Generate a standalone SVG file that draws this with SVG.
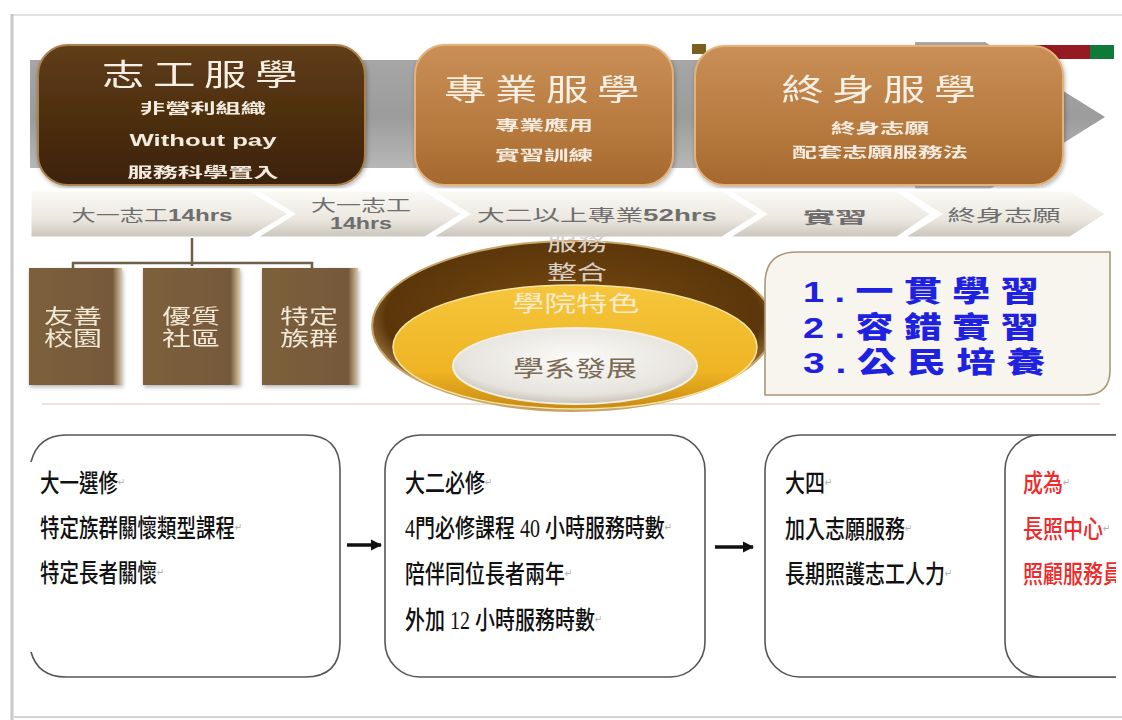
<svg xmlns="http://www.w3.org/2000/svg" width="1122" height="720" viewBox="0 0 1122 720">
<defs>
  <linearGradient id="gBand" x1="0" y1="0" x2="0" y2="1">
    <stop offset="0" stop-color="#a9a9a9"/><stop offset="0.5" stop-color="#9c9c9c"/><stop offset="1" stop-color="#c4c4c4"/>
  </linearGradient>
  <linearGradient id="gDark" x1="0" y1="0" x2="0" y2="1">
    <stop offset="0" stop-color="#5f3d17"/><stop offset="1" stop-color="#3c2208"/>
  </linearGradient>
  <linearGradient id="gOrange" x1="0" y1="0" x2="0" y2="1">
    <stop offset="0" stop-color="#c98f57"/><stop offset="0.6" stop-color="#b77a3e"/><stop offset="1" stop-color="#a4682e"/>
  </linearGradient>
  <linearGradient id="gChev" x1="0" y1="0" x2="0" y2="1">
    <stop offset="0" stop-color="#fbfaf6"/><stop offset="0.6" stop-color="#ece8e0"/><stop offset="1" stop-color="#c9c4ba"/>
  </linearGradient>
  <linearGradient id="gSmall" x1="0" y1="0" x2="1" y2="0">
    <stop offset="0" stop-color="#7c5f3b"/><stop offset="0.9" stop-color="#76593a"/><stop offset="1" stop-color="#d8c8a8"/>
  </linearGradient>
  <radialGradient id="gOuter" cx="0.5" cy="0.45" r="0.55">
    <stop offset="0" stop-color="#7a4a12"/><stop offset="0.85" stop-color="#5a360a"/><stop offset="1" stop-color="#b08850"/>
  </radialGradient>
  <linearGradient id="gGold" x1="0" y1="0" x2="0" y2="1">
    <stop offset="0" stop-color="#f6c63c"/><stop offset="0.7" stop-color="#eeb424"/><stop offset="1" stop-color="#c88a10"/>
  </linearGradient>
  <radialGradient id="gInner" cx="0.5" cy="0.4" r="0.6">
    <stop offset="0" stop-color="#fcfbf9"/><stop offset="0.8" stop-color="#e6e3dd"/><stop offset="1" stop-color="#c8c2b8"/>
  </radialGradient>
  <filter id="sh" x="-10%" y="-10%" width="120%" height="130%">
    <feDropShadow dx="1" dy="2" stdDeviation="2" flood-color="#000" flood-opacity="0.3"/>
  </filter>
  <marker id="arr" viewBox="0 0 10 10" refX="9" refY="5" markerWidth="3.2" markerHeight="3.2" orient="auto">
    <path d="M0,0 L10,5 L0,10 Z" fill="#111"/>
  </marker>
  <clipPath id="clipR"><rect x="0" y="0" width="1116" height="720"/></clipPath>
  <style>
    .ttl{font-family:"Noto Sans CJK TC","Noto Sans",sans-serif;fill:#f6efe4;text-anchor:middle;font-size:30px;letter-spacing:6px}
    .sub{font-family:"Noto Sans CJK TC","Noto Sans",sans-serif;fill:#f3ebdf;text-anchor:middle;font-size:14px;font-weight:bold}
    .chev{font-family:"Liberation Sans","Noto Sans CJK TC",sans-serif;fill:#6e6e6e;font-size:16px;text-anchor:middle}
    .small{font-family:"Liberation Serif","Noto Sans CJK TC",serif;fill:#f2ead8;font-size:20px;text-anchor:middle}
    .blue{font-family:"Liberation Sans","Noto Sans CJK TC",sans-serif;fill:#1e22e0;font-size:29px;font-weight:900;letter-spacing:8px}
    .body{font-family:"Liberation Serif","Noto Sans CJK TC",serif;fill:#111;font-size:25px;font-weight:500}
    .red{fill:#ee2a2a}
    .pm{font-family:"DejaVu Sans",sans-serif;fill:#b0b0b0;font-size:11px;font-weight:normal}
    .box{fill:#fff;stroke:#555;stroke-width:1.6}
    .conn{stroke:#111;stroke-width:3.5;fill:none}
  </style>
</defs>

<rect width="1122" height="720" fill="#fff"/>

<!-- page frame -->
<g id="frame" fill="none">
  <line x1="12" y1="15" x2="1122" y2="15" stroke="#e2e2e2" stroke-width="2"/>
  <line x1="12" y1="14" x2="12" y2="720" stroke="#c8c8c8" stroke-width="3"/>
  <line x1="12" y1="717" x2="1122" y2="717" stroke="#d4d4d4" stroke-width="2"/>
</g>

<!-- background arrow band -->
<g id="band">
  <polygon points="30,60 915,60 915,42 985,42 1105,117 985,192 915,192 915,168 30,168" fill="url(#gBand)"/>
  <rect x="1033" y="45" width="57" height="14" fill="#951a22"/>
  <rect x="1090" y="45" width="24" height="14" fill="#0f7a3a"/>
  <rect x="692" y="44" width="14" height="10" fill="#7a6020"/>
</g>

<!-- stage boxes -->
<g id="stage1" filter="url(#sh)">
  <rect x="38" y="45" width="327" height="140" rx="30" fill="url(#gDark)" stroke="#a9824f" stroke-width="2"/>
  <text class="ttl" x="204" y="85" textLength="204" lengthAdjust="spacingAndGlyphs">志工服學</text>
  <text class="sub" x="203" y="113" textLength="126" lengthAdjust="spacingAndGlyphs">非營利組織</text>
  <text x="203" y="146" font-family="Liberation Sans,Arial,sans-serif" font-weight="bold" font-size="17" fill="#f3ebdf" text-anchor="middle" textLength="147" lengthAdjust="spacingAndGlyphs">Without pay</text>
  <text class="sub" x="203" y="177" textLength="151" lengthAdjust="spacingAndGlyphs">服務科學置入</text>
</g>
<g id="stage2" filter="url(#sh)">
  <rect x="415" y="45" width="258" height="140" rx="30" fill="url(#gOrange)" stroke="#e2b27a" stroke-width="2"/>
  <text class="ttl" x="546" y="100" textLength="204" lengthAdjust="spacingAndGlyphs">專業服學</text>
  <text class="sub" x="544" y="130" textLength="98" lengthAdjust="spacingAndGlyphs">專業應用</text>
  <text class="sub" x="544" y="160" textLength="98" lengthAdjust="spacingAndGlyphs">實習訓練</text>
</g>
<g id="stage3" filter="url(#sh)">
  <rect x="695" y="46" width="368" height="139" rx="30" fill="url(#gOrange)" stroke="#e2b27a" stroke-width="2"/>
  <text class="ttl" x="883" y="100" textLength="203" lengthAdjust="spacingAndGlyphs">終身服學</text>
  <text class="sub" x="880" y="133" textLength="98" lengthAdjust="spacingAndGlyphs">終身志願</text>
  <text class="sub" x="880" y="157" textLength="176" lengthAdjust="spacingAndGlyphs">配套志願服務法</text>
</g>

<!-- chevron row -->
<g id="chevrons" stroke="#ffffff" stroke-width="3" stroke-linejoin="miter">
  <g id="chev1"><polygon points="30,190 250,190 290,214 250,238 30,238" fill="url(#gChev)"/>
    <text class="chev" stroke="none" x="152" y="221" textLength="161" lengthAdjust="spacingAndGlyphs">大一志工<tspan font-weight="bold">14hrs</tspan></text></g>
  <g id="chev2"><polygon points="255,190 425,190 463,214 425,238 255,238 293,214" fill="url(#gChev)"/>
    <text class="chev" stroke="none" x="361" y="211" textLength="100" lengthAdjust="spacingAndGlyphs">大一志工</text>
    <text class="chev" stroke="none" x="361" y="229" font-weight="bold" fill="#5a5a5a" textLength="62" lengthAdjust="spacingAndGlyphs">14hrs</text></g>
  <g id="chev3"><polygon points="430,190 722,190 760,214 722,238 430,238 468,214" fill="url(#gChev)"/>
    <text class="chev" stroke="none" x="597" y="221" textLength="240" lengthAdjust="spacingAndGlyphs">大二以上專業<tspan font-weight="bold">52hrs</tspan></text></g>
  <g id="chev4"><polygon points="727,190 897,190 932,214 897,238 727,238 765,214" fill="url(#gChev)"/>
    <text class="chev" stroke="none" x="835" y="223" font-size="22" font-weight="bold" textLength="64" lengthAdjust="spacingAndGlyphs">實習</text></g>
  <g id="chev5"><polygon points="902,190 1070,190 1107,214 1070,238 902,238 940,214" fill="url(#gChev)"/>
    <text class="chev" stroke="none" x="1004" y="221" textLength="113" lengthAdjust="spacingAndGlyphs">終身志願</text></g>
</g>

<!-- connectors -->
<g id="connectors">
  <g id="tree" stroke="#6f5e48" stroke-width="2.5" fill="none">
    <line x1="192" y1="238" x2="192" y2="266"/>
    <polyline points="73,268 73,263 312,263 312,268"/>
  </g>
  <line class="conn" x1="347" y1="545" x2="381" y2="545" marker-end="url(#arr)"/>
  <line class="conn" x1="715" y1="547" x2="753" y2="547" marker-end="url(#arr)"/>
  <line class="conn" x1="968" y1="548" x2="1004" y2="548" marker-end="url(#arr)"/>
</g>

<!-- small brown boxes -->
<g id="box-youshan" filter="url(#sh)">
  <rect x="29" y="268" width="93" height="117" fill="url(#gSmall)"/>
  <text class="small" x="73" y="324" textLength="58" lengthAdjust="spacingAndGlyphs">友善</text><text class="small" x="73" y="346" textLength="58" lengthAdjust="spacingAndGlyphs">校園</text>
</g>
<g id="box-youzhi" filter="url(#sh)">
  <rect x="143" y="268" width="97" height="117" fill="url(#gSmall)"/>
  <text class="small" x="191" y="324" textLength="58" lengthAdjust="spacingAndGlyphs">優質</text><text class="small" x="191" y="346" textLength="58" lengthAdjust="spacingAndGlyphs">社區</text>
</g>
<g id="box-teding" filter="url(#sh)">
  <rect x="262" y="268" width="96" height="117" fill="url(#gSmall)"/>
  <text class="small" x="309" y="324" textLength="58" lengthAdjust="spacingAndGlyphs">特定</text><text class="small" x="309" y="346" textLength="58" lengthAdjust="spacingAndGlyphs">族群</text>
</g>

<line x1="42" y1="404" x2="1100" y2="404" stroke="#ece4d8" stroke-width="2"/>

<!-- nested ellipses -->
<g id="ellipses">
  <ellipse cx="573" cy="326" rx="201" ry="85" fill="url(#gOuter)" stroke="#c9a46a" stroke-width="2"/>
  <ellipse cx="575" cy="347" rx="182" ry="62" fill="url(#gGold)" stroke="#f8e6a0" stroke-width="1.5"/>
  <ellipse cx="575" cy="366" rx="122" ry="38" fill="url(#gInner)" stroke="#f4efe4" stroke-width="2"/>
  <text x="577" y="251" font-family="Liberation Serif,Noto Sans CJK TC,serif" font-size="20" fill="#d8d0c6" text-anchor="middle" textLength="60" lengthAdjust="spacingAndGlyphs">服務</text>
  <text x="577" y="280" font-family="Liberation Serif,Noto Sans CJK TC,serif" font-size="20" fill="#d8d0c6" text-anchor="middle" textLength="60" lengthAdjust="spacingAndGlyphs">整合</text>
  <text x="576" y="311" font-family="Liberation Serif,Noto Sans CJK TC,serif" font-size="22" fill="#f6ebcf" text-anchor="middle" textLength="127" lengthAdjust="spacingAndGlyphs">學院特色</text>
  <text x="575" y="376" font-family="Liberation Serif,Noto Sans CJK TC,serif" font-size="22" fill="#7a6a55" text-anchor="middle" textLength="124" lengthAdjust="spacingAndGlyphs">學系發展</text>
</g>

<!-- principles panel -->
<g id="principles">
  <path d="M797,252 L1110,252 L1110,370 Q1110,395 1085,395 L765,395 L765,284 Q765,252 797,252 Z" fill="#f8f5ef" stroke="#a8987a" stroke-width="1.6"/>
  <text class="blue" x="803" y="302" textLength="246" lengthAdjust="spacingAndGlyphs">1.一貫學習</text>
  <text class="blue" x="803" y="338" textLength="246" lengthAdjust="spacingAndGlyphs">2.容錯實習</text>
  <text class="blue" x="803" y="373" textLength="253" lengthAdjust="spacingAndGlyphs">3.公民培養</text>
</g>

<!-- bottom flow boxes -->
<g id="box-year1">
  <path class="box" d="M31,462 Q38,435 66,435 L305,435 Q340,435 340,470 L340,642 Q340,677 305,677 L66,677 Q38,677 31,652" fill="#fff"/>
  <g transform="translate(40,0) scale(0.78,1)">
    <text class="body" x="0" y="492">大一選修<tspan class="pm" dy="-6">↵</tspan></text>
    <text class="body" x="0" y="537">特定族群關懷類型課程<tspan class="pm" dy="-6">↵</tspan></text>
    <text class="body" x="0" y="582">特定長者關懷<tspan class="pm" dy="-6">↵</tspan></text>
  </g>
</g>
<g id="box-year2">
  <rect class="box" x="385" y="435" width="320" height="242" rx="35"/>
  <g transform="translate(405,0) scale(0.8,1)">
    <text class="body" x="0" y="492">大二必修<tspan class="pm" dy="-6">↵</tspan></text>
    <text class="body" x="0" y="537">4門必修課程 40 小時服務時數<tspan class="pm" dy="-6">↵</tspan></text>
    <text class="body" x="0" y="583">陪伴同位長者兩年<tspan class="pm" dy="-6">↵</tspan></text>
    <text class="body" x="0" y="629">外加 12 小時服務時數<tspan class="pm" dy="-6">↵</tspan></text>
  </g>
</g>
<g id="box-year4" clip-path="url(#clipR)">
  <rect class="box" x="765" y="435" width="420" height="242" rx="35"/>
  <g transform="translate(785,0) scale(0.8,1)">
    <text class="body" x="0" y="492">大四<tspan class="pm" dy="-6">↵</tspan></text>
    <text class="body" x="0" y="538">加入志願服務<tspan class="pm" dy="-6">↵</tspan></text>
    <text class="body" x="0" y="583">長期照護志工人力<tspan class="pm" dy="-6">↵</tspan></text>
  </g>
</g>
<g id="box-career" clip-path="url(#clipR)">
  <rect class="box" x="1005" y="435" width="200" height="242" rx="35"/>
  <g transform="translate(1023,0) scale(0.8,1)">
    <text class="body red" x="0" y="492">成為<tspan class="pm" dy="-6">↵</tspan></text>
    <text class="body red" x="0" y="538">長照中心<tspan class="pm" dy="-6">↵</tspan></text>
    <text class="body red" x="0" y="583">照顧服務員</text>
  </g>
</g>
</svg>
